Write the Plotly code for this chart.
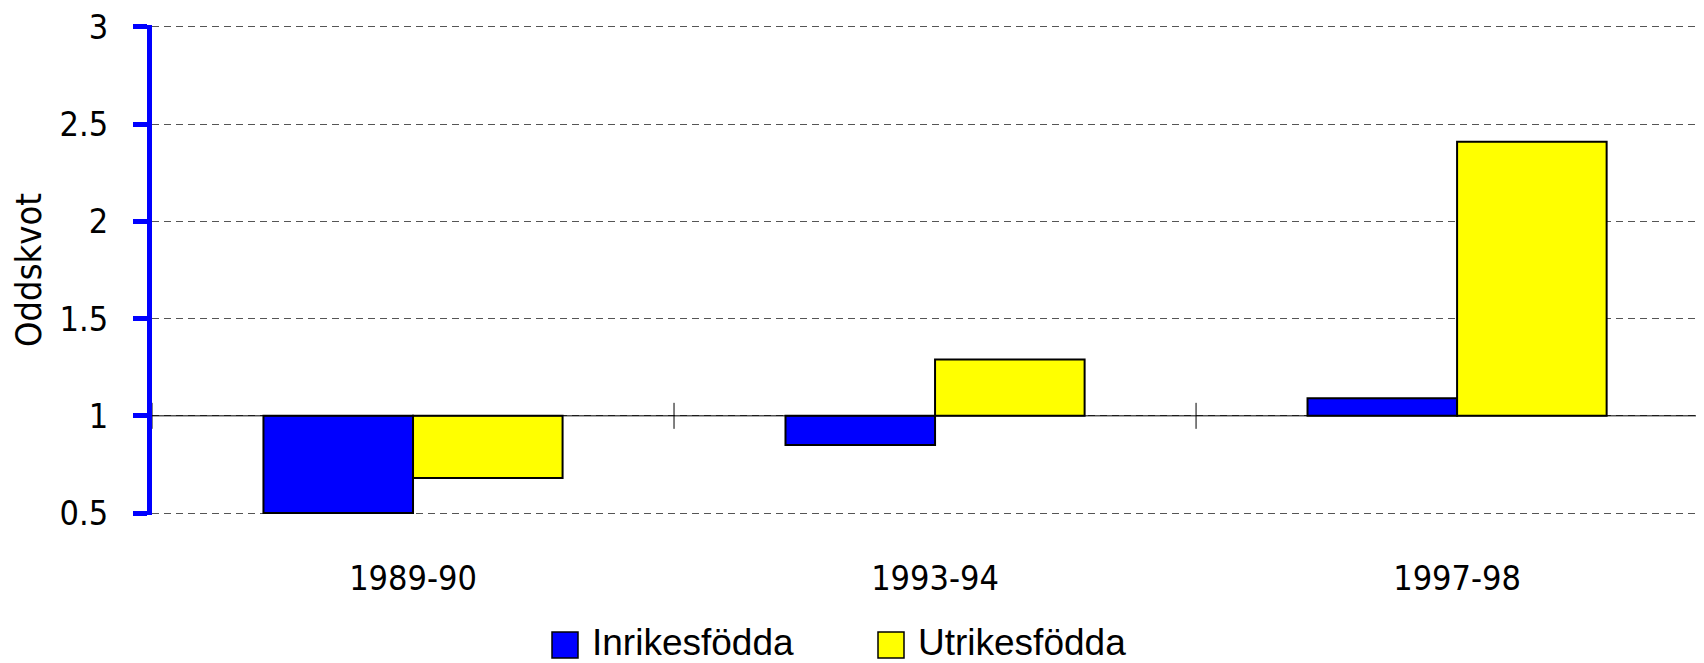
import plotly.graph_objects as go

# ---- data ----
categories = ["1989-90", "1993-94", "1997-98"]
inrikes = [0.50, 0.85, 1.09]
utrikes = [0.68, 1.29, 2.41]
series_names = ["Inrikesfödda", "Utrikesfödda"]
series_colors = ["#0000FF", "#FFFF00"]
baseline = 1.0

# page body has an 8px default margin; figure sized/placed to compensate
OFF = 8
W, H = 1696, 655
L, R, T, B = 144, 0, 17, 148
pw, ph = W - L - R, H - T - B

def px_x(p):  # page pixel -> paper x
    return (p - OFF - L) / pw

def px_y(p):  # page pixel -> paper y
    return (H - B - (p - OFF)) / ph

narrow = "Liberation Sans Narrow, Arial Narrow, DejaVu Sans Condensed, sans-serif"
regular = "Liberation Sans, Arial, sans-serif"

fig = go.Figure()
for name, vals, col in zip(series_names, [inrikes, utrikes], series_colors):
    fig.add_trace(go.Bar(
        x=categories, y=[v - baseline for v in vals], base=baseline,
        name=name, marker=dict(color=col, line=dict(color="#000000", width=2)),
        showlegend=False,
    ))

shapes = []
# baseline (solid line at y=1)
shapes.append(dict(type="line", xref="paper", yref="y", x0=0, x1=1, y0=baseline, y1=baseline,
                   line=dict(color="#000000", width=1), layer="above"))
# category boundary cross ticks
for i in range(len(categories)):
    shapes.append(dict(type="line", xref="x", yref="y", ysizemode="pixel", yanchor=baseline,
                       x0=i - 0.5, x1=i - 0.5, y0=-13, y1=13,
                       line=dict(color="#000000", width=1), layer="above"))

# manual legend
annotations = []
legend_items = [(552, 590), (878, 916)]
for (sx, tx), name, col in zip(legend_items, series_names, series_colors):
    shapes.append(dict(type="rect", xref="paper", yref="paper",
                       x0=px_x(sx), x1=px_x(sx + 26), y0=px_y(658), y1=px_y(632),
                       fillcolor=col, line=dict(color="#000000", width=1.5)))
    annotations.append(dict(text=name, xref="paper", yref="paper", x=px_x(tx), y=px_y(642),
                            xanchor="left", yanchor="middle", showarrow=False,
                            font=dict(family=regular, size=37, color="#000000")))

fig.update_layout(
    width=W, height=H,
    margin=dict(l=L, r=R, t=T, b=B, pad=0),
    paper_bgcolor="#FFFFFF", plot_bgcolor="#FFFFFF",
    barmode="group", bargap=0.427, bargroupgap=0,
    showlegend=False,
    shapes=shapes, annotations=annotations,
    xaxis=dict(type="category", range=[-0.5, 2.473], showgrid=False, showline=False,
               ticks="", zeroline=False, ticklabelstandoff=40,
               tickfont=dict(family=narrow, size=34, color="#000000")),
    yaxis=dict(range=[0.49, 3.01], tickvals=[0.5, 1, 1.5, 2, 2.5, 3],
               showline=True, linecolor="#0000FF",
               linewidth=5, ticks="outside", tickcolor="#0000FF", tickwidth=5, ticklen=14,
               ticklabelstandoff=18, ticklabeloverflow="allow",
               showgrid=True, gridcolor="#555555", gridwidth=1,
               griddash="7px,5px", zeroline=False,
               tickfont=dict(family=narrow, size=34, color="#000000"),
               title=dict(text="Oddskvot", standoff=26,
                          font=dict(family=narrow, size=36, color="#000000"))),
)

fig.write_html("out.html")
